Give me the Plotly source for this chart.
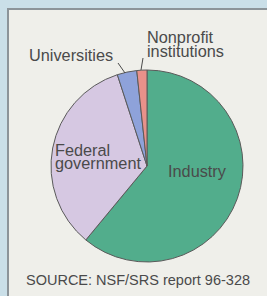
import plotly.graph_objects as go

W, H = 267, 296

categories = ["Industry", "Federal government", "Universities", "Nonprofit institutions"]
values = [61.0, 34.0, 3.3, 1.7]
colors = ["#52ad8c", "#d6c8e2", "#8ea2da", "#e8918a"]
source_text = "SOURCE: NSF/SRS report 96-328"

def px(x):
    return x / W

def py(y):
    return 1 - y / H

cx, cy, r = 147, 166, 96

fig = go.Figure()
fig.add_trace(go.Pie(
    labels=categories,
    values=values,
    sort=False,
    direction="clockwise",
    rotation=0,
    marker=dict(colors=colors, line=dict(color="#5a5a5a", width=1)),
    textinfo="none",
    hoverinfo="label+percent",
    showlegend=False,
    domain=dict(x=[px(cx - r), px(cx + r)], y=[py(cy + r), py(cy - r)]),
))

font = dict(family="Liberation Sans, Arial, sans-serif", size=16, color="#4a4a4a")

def label(text, x, y_mid, size=16.3, anchor="left"):
    f = dict(font)
    f["size"] = size
    fig.add_annotation(text=text, x=px(x), y=py(y_mid), xref="paper", yref="paper",
                       xanchor=anchor, yanchor="middle", showarrow=False, font=f,
                       borderpad=0)

label("Nonprofit", 146, 37)
label("institutions", 146, 51)
label("Universities", 28, 55)
label("Federal", 54, 150)
label("government", 54, 163)
label("Industry", 167, 171)
label(source_text, 25, 280, size=14.5)

shapes = [
    dict(type="rect", xref="paper", yref="paper", x0=px(8), y0=py(9), x1=px(W + 10), y1=py(H + 10),
         fillcolor="#efefea", line=dict(color="#8c9499", width=2), layer="below"),
    dict(type="line", xref="paper", yref="paper", x0=px(118), y0=py(63), x1=px(125), y1=py(73),
         line=dict(color="#4a4a4a", width=1)),
    dict(type="line", xref="paper", yref="paper", x0=px(143), y0=py(58), x1=px(141), y1=py(70),
         line=dict(color="#4a4a4a", width=1)),
]

fig.update_layout(
    width=W, height=H,
    margin=dict(l=0, r=0, t=0, b=0),
    paper_bgcolor="#cadfe8",
    plot_bgcolor="rgba(0,0,0,0)",
    shapes=shapes,
)

fig.write_html("out.html", config={"displayModeBar": False},
               post_script="document.body.style.margin='0';document.body.style.padding='0';")
